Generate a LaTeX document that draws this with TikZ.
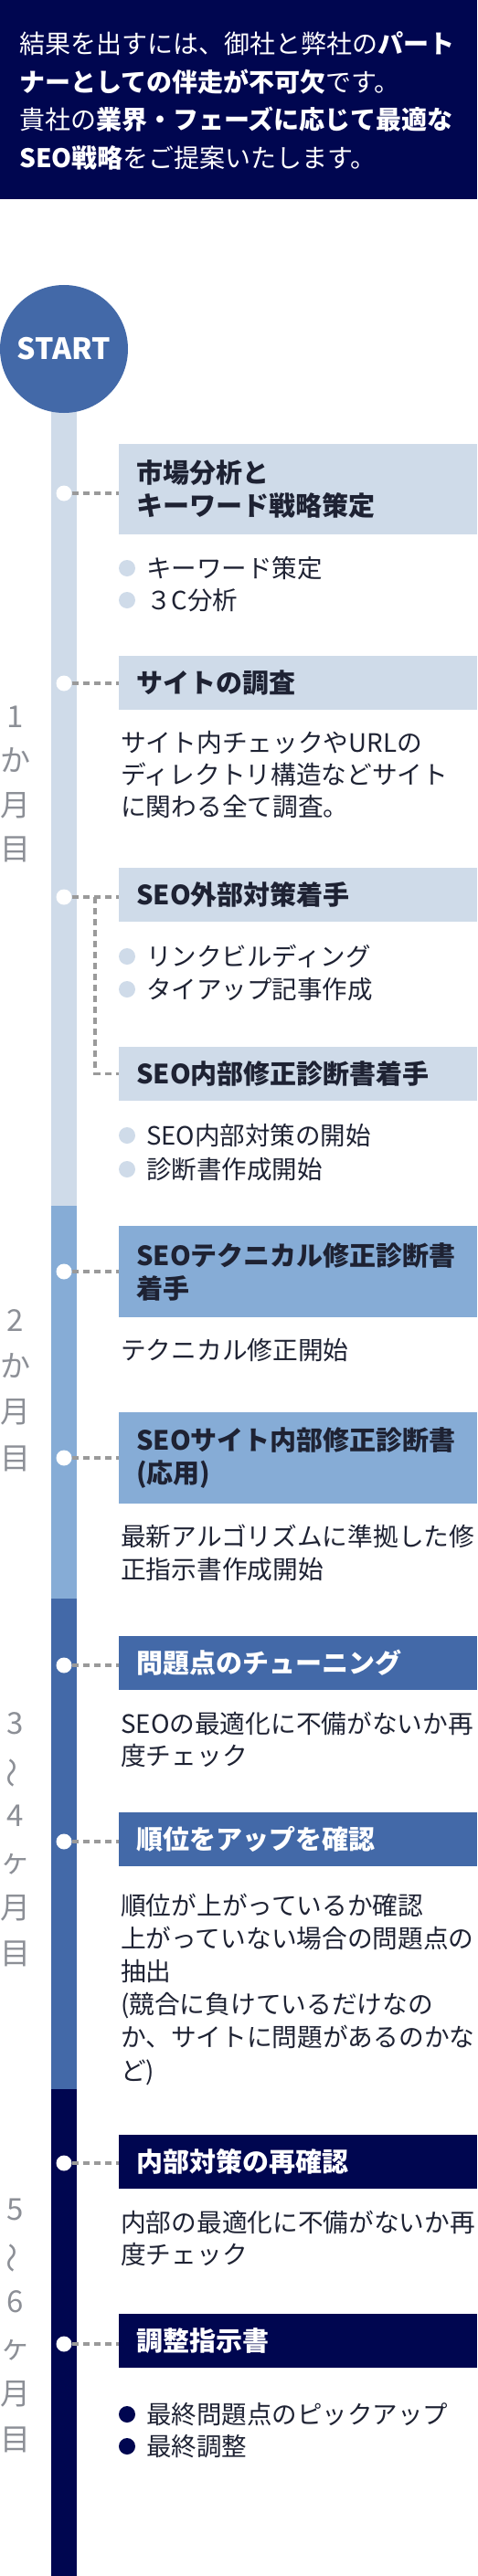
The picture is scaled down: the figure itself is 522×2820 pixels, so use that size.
\documentclass[tikz,border=0pt]{standalone}
\usepackage{fontspec}
\usepackage{graphicx}
\setmainfont{Noto Sans CJK JP}
\usetikzlibrary{positioning}

\definecolor{headColor}{RGB}{0,6,80}
\definecolor{paleColor}{RGB}{207,219,233}
\definecolor{midColor}{RGB}{134,172,214}
\definecolor{blueColor}{RGB}{67,105,168}
\definecolor{navyColor}{RGB}{0,6,80}
\definecolor{monthColor}{RGB}{140,143,150}
\definecolor{dashColor}{RGB}{154,154,154}
\definecolor{inkColor}{RGB}{30,34,51}

\tikzset{
  stagebox/.style={anchor=west, text width=354pt, inner xsep=19pt, inner ysep=0pt,
    minimum height=59pt, align=left, text=inkColor,
    font=\bfseries\fontsize{29}{36}\selectfont},
  desc/.style={anchor=west, inner sep=0pt, align=left, text=inkColor,
    font=\fontsize{27.7}{35.5}\selectfont},
  item/.style={anchor=west, inner sep=0pt, text=inkColor,
    font=\fontsize{27.5}{35}\selectfont},
  month/.style={inner sep=0pt, align=center, text=monthColor,
    font=\fontsize{33}{50.4}\selectfont},
  dot/.style={circle, fill=white, inner sep=0pt, minimum size=17pt},
  link/.style={dashColor, line width=3.3pt, dash pattern=on 7pt off 5pt},
}
\newcommand{\wavemark}{\rotatebox[origin=c]{90}{〜}}

\begin{document}
\begin{tikzpicture}[x=1pt,y=-1pt]
  \useasboundingbox (0,0) rectangle (522,2820);
  % Header
  \fill[headColor] (0,0) rectangle (522,218);
  \node[anchor=west, inner sep=0pt, align=left, text=white,
    font=\fontsize{28}{41.7}\selectfont] (intro) at (21,110.5)
    {結果を出すには、御社と弊社の{\bfseries パート}\\
     {\bfseries ナーとしての伴走が不可欠}です。\\
     貴社の{\bfseries 業界・フェーズに応じて最適な}\\
     {\bfseries SEO戦略}をご提案いたします。};
  % Timeline bar
  \fill[paleColor] (56,382) rectangle (84,1320);
  \fill[midColor] (56,1320) rectangle (84,1750);
  \fill[blueColor] (56,1750) rectangle (84,2287);
  \fill[navyColor] (56,2287) rectangle (84,2820);
  \node[circle, fill=blueColor, minimum size=140pt, inner sep=0pt, text=white,
    font=\bfseries\fontsize{32}{32}\selectfont] (start) at (70,382) {START};
  % Months
  \node[month, font=\fontsize{33}{48.3}\selectfont] (m1) at (17,858.5) {1\\か\\月\\目};
  \node[month] (m2) at (17,1522) {2\\か\\月\\目};
  \node[month] (m3) at (17,2014) {3\\\wavemark\\4\\ヶ\\月\\目};
  \node[month] (m4) at (17,2546) {5\\\wavemark\\6\\ヶ\\月\\目};

  % Stage 1
  \node[stagebox, fill=paleColor, minimum height=99pt] (s1) at (130,535.5) {市場分析と\\キーワード戦略策定};
  \node[dot] (d1) at (70,540) {};
  \draw[link] (d1) -- (d1 -| s1.west);
  \fill[paleColor] (139,622) circle (9pt);
  \node[item] (s1a) at (160,622) {キーワード策定};
  \fill[paleColor] (139,657) circle (9pt);
  \node[item] (s1b) at (160,657) {３C分析};

  % Stage 2
  \node[stagebox, fill=paleColor] (s2) at (130,747.5) {サイトの調査};
  \node[dot] (d2) at (70,748) {};
  \draw[link] (d2) -- (d2 -| s2.west);
  \node[desc, font=\fontsize{27.7}{35}\selectfont] (t2) at (132,848)
    {サイト内チェックやURLの\\ディレクトリ構造などサイト\\に関わる全て調査。};

  % Stage 3 and 4
  \node[stagebox, fill=paleColor] (s3) at (130,979.5) {SEO外部対策着手};
  \node[dot] (d3) at (70,982) {};
  \coordinate (k3) at (104,982);
  \draw[link] (d3) -- (d3 -| s3.west);
  \fill[paleColor] (139,1047) circle (9pt);
  \node[item] (s3a) at (160,1047) {リンクビルディング};
  \fill[paleColor] (139,1083) circle (9pt);
  \node[item] (s3b) at (160,1083) {タイアップ記事作成};
  \node[stagebox, fill=paleColor] (s4) at (130,1175.5) {SEO内部修正診断書着手};
  \draw[link] (k3) |- (s4.west);
  \fill[paleColor] (139,1243) circle (9pt);
  \node[item] (s4a) at (160,1243) {SEO内部対策の開始};
  \fill[paleColor] (139,1280) circle (9pt);
  \node[item] (s4b) at (160,1280) {診断書作成開始};

  % Stage 5
  \node[stagebox, fill=midColor, minimum height=100pt] (s5) at (130,1392) {SEOテクニカル修正診断書\\着手};
  \node[dot] (d5) at (70,1392) {};
  \draw[link] (d5) -- (d5 -| s5.west);
  \node[desc] (t5) at (132,1478) {テクニカル修正開始};

  % Stage 6
  \node[stagebox, fill=midColor, minimum height=100pt] (s6) at (130,1596) {SEOサイト内部修正診断書\\(応用)};
  \node[dot] (d6) at (70,1596) {};
  \draw[link] (d6) -- (d6 -| s6.west);
  \node[desc, font=\fontsize{27.7}{36}\selectfont] (t6) at (132,1700)
    {最新アルゴリズムに準拠した修\\正指示書作成開始};

  % Stage 7
  \node[stagebox, fill=blueColor, text=white] (s7) at (130,1820.5) {問題点のチューニング};
  \node[dot] (d7) at (70,1823) {};
  \draw[link] (d7) -- (d7 -| s7.west);
  \node[desc] (t7) at (132,1904.5) {SEOの最適化に不備がないか再\\度チェック};

  % Stage 8
  \node[stagebox, fill=blueColor, text=white] (s8) at (130,2013.5) {順位をアップを確認};
  \node[dot] (d8) at (70,2016) {};
  \draw[link] (d8) -- (d8 -| s8.west);
  \node[desc, font=\fontsize{27.7}{36.2}\selectfont] (t8) at (132,2177.5)
    {順位が上がっているか確認\\上がっていない場合の問題点の\\抽出\\(競合に負けているだけなの\\か、サイトに問題があるのかな\\ど)};

  % Stage 9
  \node[stagebox, fill=navyColor, text=white] (s9) at (130,2366) {内部対策の再確認};
  \node[dot] (d9) at (70,2368) {};
  \draw[link] (d9) -- (d9 -| s9.west);
  \node[desc] (t9) at (132,2450.5) {内部の最適化に不備がないか再\\度チェック};

  % Stage 10
  \node[stagebox, fill=navyColor, text=white] (s10) at (130,2562) {調整指示書};
  \node[dot] (d10) at (70,2566) {};
  \draw[link] (d10) -- (d10 -| s10.west);
  \fill[navyColor] (139,2643) circle (9pt);
  \node[item] (s10a) at (160,2643) {最終問題点のピックアップ};
  \fill[navyColor] (139,2678) circle (9pt);
  \node[item] (s10b) at (160,2678) {最終調整};
\end{tikzpicture}
\end{document}
